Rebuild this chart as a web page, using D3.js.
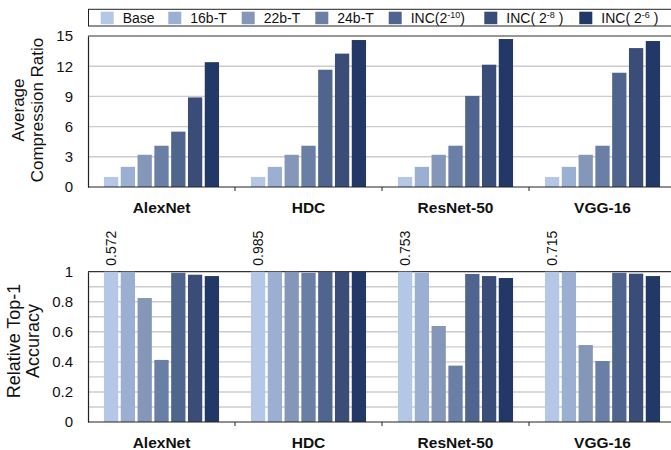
<!DOCTYPE html>
<html><head><meta charset="utf-8">
<script src="https://cdn.jsdelivr.net/npm/d3@7"></script>
<style>body{margin:0;background:#fff;} text{font-family:"Liberation Sans",Arial,Helvetica,sans-serif;}</style>
</head><body>
<svg id="c" width="671" height="450"></svg>
<script>
const categories = ["AlexNet", "HDC", "ResNet-50", "VGG-16"];
const seriesNames = ["Base", "16b-T", "22b-T", "24b-T", "INC10", "INC8", "INC6"];
const colors = ["#b4c7e7", "#9aafd1", "#8497b9", "#6a7fa5", "#50658d", "#3a4d78", "#223866"];
// Compression ratio per category, per series
const compression = [
  [1.0, 2.0, 3.2, 4.1, 5.5, 8.9, 12.4],
  [1.0, 2.0, 3.2, 4.1, 11.65, 13.25, 14.6],
  [1.0, 2.0, 3.2, 4.1, 9.05, 12.15, 14.7],
  [1.0, 2.0, 3.2, 4.1, 11.35, 13.8, 14.5]
];
// Relative Top-1 accuracy per category, per series
const accuracy = [
  [1.0, 1.0, 0.825, 0.413, 0.993, 0.98, 0.971],
  [1.0, 1.0, 1.0, 0.993, 1.0, 1.0, 1.0],
  [1.0, 0.993, 0.639, 0.375, 0.985, 0.971, 0.958],
  [1.0, 1.0, 0.512, 0.406, 0.993, 0.987, 0.971]
];
const baseLabels = ["0.572", "0.985", "0.753", "0.715"];
const compTicks = [0, 3, 6, 9, 12, 15];
const accTicks = [0, 0.2, 0.4, 0.6, 0.8, 1];

const svg = d3.select("#c");
const left = 88, right = 676;
const x0 = d3.scaleBand().domain(categories).range([left, right]).paddingInner(0.2).paddingOuter(0.1);
const x1 = d3.scaleBand().domain(seriesNames).range([0, x0.bandwidth()]).paddingInner(0.15).paddingOuter(0.075);
const xb = d3.scaleBand().domain(categories).range([left, right]);

function panel(data, yTop, yBot, maxV, ticks, gridStep, fmt, labelLines, labelX, labelY, labelSize) {
  const y = d3.scaleLinear().domain([0, maxV]).range([yBot, yTop]);
  const g = svg.append("g");
  const grid = d3.range(0, maxV + 1e-9, gridStep);
  g.selectAll("line.grid").data(grid.filter(v => v > 0 && v < maxV - 1e-9)).join("line")
    .attr("x1", left).attr("x2", 671).attr("y1", d => y(d)).attr("y2", d => y(d))
    .attr("stroke", "#cccccc").attr("stroke-width", 1.4);
  g.append("line").attr("x1", left).attr("x2", 671).attr("y1", y(maxV)).attr("y2", y(maxV))
    .attr("stroke", "#333").attr("stroke-width", 1.2);
  categories.forEach((c, i) => {
    g.selectAll(null).data(data[i]).join("rect")
      .attr("x", (d, j) => x0(c) + x1(seriesNames[j]))
      .attr("width", x1.bandwidth())
      .attr("y", d => y(d))
      .attr("height", d => yBot - y(d))
      .attr("fill", (d, j) => colors[j]);
  });
  const ax = d3.axisLeft(y).tickValues(ticks).tickSize(0).tickPadding(15).tickFormat(fmt);
  const ag = g.append("g").attr("transform", `translate(${left},0)`).call(ax);
  ag.select(".domain").attr("stroke", "#222").attr("stroke-width", 1.2);
  ag.selectAll("text").attr("font-size", 15).attr("fill", "#111")
    .style("font-family", '"Liberation Sans",Arial,sans-serif');
  g.append("line").attr("x1", left).attr("x2", 671).attr("y1", yBot).attr("y2", yBot)
    .attr("stroke", "#222").attr("stroke-width", 1.2);
  categories.slice(1).forEach(c => {
    g.append("line").attr("x1", xb(c)).attr("x2", xb(c)).attr("y1", yBot).attr("y2", yBot + 4)
      .attr("stroke", "#222").attr("stroke-width", 1);
  });
  g.selectAll("text.cat").data(categories).join("text")
    .attr("x", d => x0(d) + x0.bandwidth() / 2).attr("y", yBot + 26)
    .attr("text-anchor", "middle").attr("font-size", 15.5).attr("font-weight", "bold")
    .attr("fill", "#111").text(d => d);
  labelLines.forEach((t, k) => {
    svg.append("text").attr("transform", `translate(${labelX[k]},${labelY}) rotate(-90)`)
      .attr("text-anchor", "middle").attr("font-size", labelSize).attr("fill", "#111").text(t);
  });
  return y;
}

panel(compression, 36, 187, 15, compTicks, 3, d3.format("d"), ["Average", "Compression Ratio"], [23.5, 42.5], 110, 17);
const yA = panel(accuracy, 271.7, 422, 1, accTicks, 0.1, d => d === 0 || d === 1 ? d3.format("d")(d) : d3.format(".1f")(d), ["Relative Top-1", "Accuracy"], [19.5, 39], 341, 18);

categories.forEach((c, i) => {
  const cx = x0(c) + x1(seriesNames[0]) + x1.bandwidth() / 2;
  svg.append("text").attr("transform", `translate(${cx + 5},${yA(1) - 6}) rotate(-90)`)
    .attr("text-anchor", "start").attr("font-size", 14).attr("fill", "#111").text(baseLabels[i]);
});

// legend
const lg = svg.append("g");
lg.append("rect").attr("x", 88.5).attr("y", 9.3).attr("width", 600).attr("height", 16.7)
  .attr("fill", "#fff").attr("stroke", "#222").attr("stroke-width", 1);
const legX = [100.7, 168.3, 241.7, 315.3, 388.7, 484.3, 579.3];
const legText = [
  [["Base"]], [["16b-T"]], [["22b-T"]], [["24b-T"]],
  [["INC(2"], ["-10", true], [")"]],
  [["INC( 2"], ["-8", true], [" )"]],
  [["INC( 2"], ["-6", true], [" )"]]
];
seriesNames.forEach((s, j) => {
  lg.append("rect").attr("x", legX[j]).attr("y", 11.7).attr("width", 13).attr("height", 12.5).attr("fill", colors[j]);
  const t = lg.append("text").attr("x", legX[j] + 22).attr("y", 23).attr("font-size", 14).attr("fill", "#111")
    .attr("xml:space", "preserve").style("white-space", "pre");
  legText[j].forEach((p, k) => {
    const ts = t.append("tspan").text(p[0]);
    if (p[1]) ts.attr("font-size", 9).attr("dy", -5);
    else if (k > 0) ts.attr("dy", 5);
  });
});
</script>
</body></html>
